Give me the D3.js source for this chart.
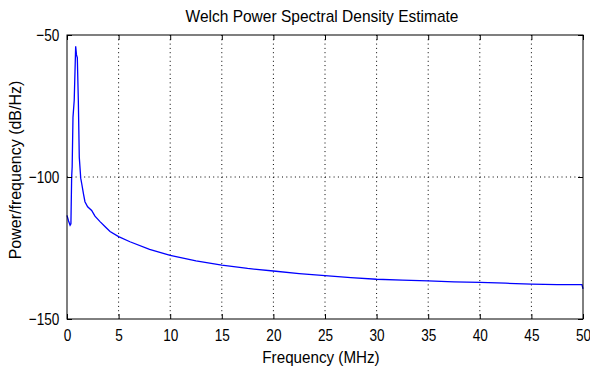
<!DOCTYPE html>
<meta charset="utf-8" />
<script src="https://d3js.org/d3.v7.min.js"></script>
<style>
  body { margin: 0; background: #fff; }
  text { font-family: "Liberation Sans", Arial, sans-serif; fill: #000; }
</style>
<div id="my_dataviz"></div>
<script>
  // frequency (MHz) and PSD (dB/Hz)
  const freq = [0, 0.15, 0.3, 0.38, 0.45, 0.5, 0.58, 0.7, 0.84, 0.92, 1.0, 1.1, 1.19, 1.33, 1.42, 1.6, 1.74, 2.0,
    2.39, 2.71, 3.2, 3.7, 4.17, 5, 6.1, 8, 10, 12.5, 15, 17.5, 20, 22.5, 25, 27.5, 30, 32.5, 35, 37.5, 40, 42.5,
    45, 47.5, 49.9, 50];
  const power = [-113.5, -115.5, -117, -116.5, -100, -96.5, -79, -73, -54, -57, -58, -73.5, -93, -100.4, -102.2,
    -106, -108.7, -110.5, -111.8, -113.8, -115.7, -117.5, -119.2, -121, -122.8, -125.5, -127.6, -129.5, -131,
    -132.2, -133.1, -134, -134.7, -135.4, -136, -136.3, -136.6, -136.9, -137.1, -137.4, -137.7, -137.9, -137.9,
    -139.4];
  const xTicks = [0, 5, 10, 15, 20, 25, 30, 35, 40, 45, 50];
  const yTicks = [-150, -100, -50];

  const W = 590, H = 374;
  const margin = { top: 35, right: 7, bottom: 55, left: 67 },
    width = W - margin.left - margin.right,
    height = H - margin.top - margin.bottom;

  const svg = d3.select("#my_dataviz").append("svg")
    .attr("width", W).attr("height", H);
  const g = svg.append("g")
    .attr("transform", `translate(${margin.left}, ${margin.top})`);

  const x = d3.scaleLinear().domain([0, 50]).range([0, width]);
  const y = d3.scaleLinear().domain([-150, -50]).range([height, 0]);

  // dotted grid
  g.selectAll(".vgrid").data(xTicks.slice(1, -1)).join("line")
    .attr("x1", d => x(d)).attr("x2", d => x(d))
    .attr("y1", 0).attr("y2", height)
    .attr("stroke", "#000").attr("stroke-dasharray", "1,3.3");
  g.selectAll(".hgrid").data(yTicks.slice(1, -1)).join("line")
    .attr("x1", 0).attr("x2", width)
    .attr("y1", d => y(d)).attr("y2", d => y(d))
    .attr("stroke", "#000").attr("stroke-dasharray", "1,3.3");

  // curve
  const line = d3.line()
    .x((d, i) => x(freq[i]))
    .y(d => y(d));
  g.append("path")
    .datum(power)
    .attr("fill", "none")
    .attr("stroke", "#0000ff")
    .attr("stroke-width", 1.3)
    .attr("d", line);

  // axes, ticks inward on all sides
  const tk = 5;
  g.append("g").attr("transform", `translate(0, ${height})`)
    .call(d3.axisBottom(x).tickValues(xTicks).tickSizeInner(-tk).tickSizeOuter(0).tickPadding(10))
    .call(a => a.select(".domain").remove());
  g.append("g")
    .call(d3.axisTop(x).tickValues(xTicks).tickSizeInner(-tk).tickSizeOuter(0).tickFormat(""))
    .call(a => a.select(".domain").remove());
  g.append("g")
    .call(d3.axisLeft(y).tickValues(yTicks).tickSizeInner(-tk).tickSizeOuter(0).tickPadding(9.5))
    .call(a => a.select(".domain").remove());
  g.append("g").attr("transform", `translate(${width}, 0)`)
    .call(d3.axisRight(y).tickValues(yTicks).tickSizeInner(-tk).tickSizeOuter(0).tickFormat(""))
    .call(a => a.select(".domain").remove());
  // narrow tick labels like the original
  g.selectAll(".tick text").style("font-size", "17px")
    .style("font-family", "'Liberation Sans', Arial, sans-serif")
    .attr("transform", "scale(0.8,1)");
  g.selectAll(".tick line").attr("stroke", "#000");

  g.append("rect")
    .attr("width", width).attr("height", height)
    .attr("fill", "none").attr("stroke", "#000").attr("stroke-width", 1);

  // labels
  svg.append("text")
    .attr("transform", `translate(${margin.left + width / 2 - 3}, 22) scale(0.97,1)`)
    .attr("text-anchor", "middle").style("font-size", "16px")
    .text("Welch Power Spectral Density Estimate");
  svg.append("text")
    .attr("transform", `translate(${margin.left + width / 2 - 4}, 363) scale(0.95,1)`)
    .attr("text-anchor", "middle").style("font-size", "16px")
    .text("Frequency (MHz)");
  svg.append("text")
    .attr("transform", `translate(21, ${margin.top + height / 2 - 7}) rotate(-90)`)
    .attr("text-anchor", "middle").style("font-size", "16px")
    .text("Power/frequency (dB/Hz)");
</script>
